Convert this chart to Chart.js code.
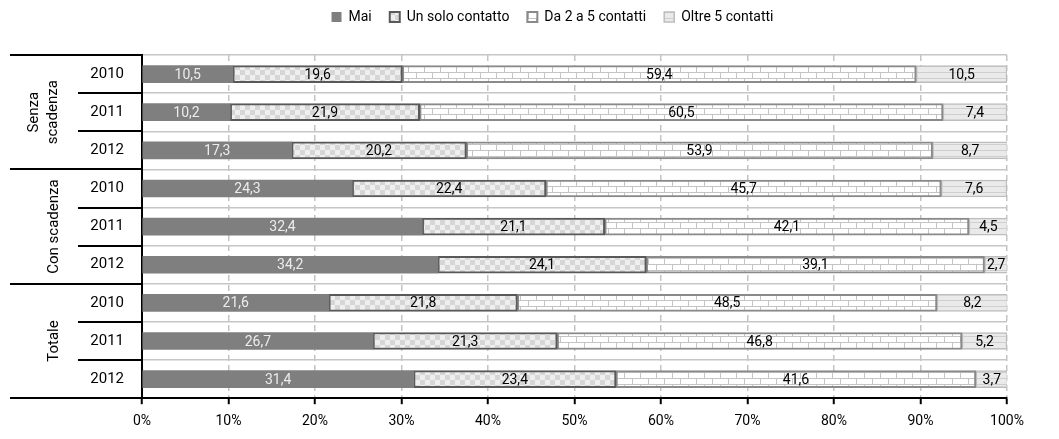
<!DOCTYPE html>
<html>
<head>
<meta charset="utf-8">
<script src="https://cdn.jsdelivr.net/npm/chart.js@4/dist/chart.umd.min.js"></script>
<style>
  body { margin: 0; background: #fff; }
  #wrap { width: 1059px; height: 439px; }
</style>
</head>
<body>
<div id="wrap"><canvas id="myChart" width="1059" height="439"></canvas></div>
<script>
// data
const groups = [['Senza', 'scadenza'], ['Con scadenza'], ['Totale']];
const years = ['2010', '2011', '2012', '2010', '2011', '2012', '2010', '2011', '2012'];
const seriesNames = ['Mai', 'Un solo contatto', 'Da 2 a 5 contatti', 'Oltre 5 contatti'];
const mai     = [10.5, 10.2, 17.3, 24.3, 32.4, 34.2, 21.6, 26.7, 31.4];
const unSolo  = [19.6, 21.9, 20.2, 22.4, 21.1, 24.1, 21.8, 21.3, 23.4];
const da2a5   = [59.4, 60.5, 53.9, 45.7, 42.1, 39.1, 48.5, 46.8, 41.6];
const oltre5  = [10.5, 7.4, 8.7, 7.6, 4.5, 2.7, 8.2, 5.2, 3.7];
const xTicks  = ['0%', '10%', '20%', '30%', '40%', '50%', '60%', '70%', '80%', '90%', '100%'];

const FONT = 'Roboto, sans-serif';

function makePattern(w, h, draw) {
  const c = document.createElement('canvas');
  c.width = w; c.height = h;
  const g = c.getContext('2d');
  draw(g);
  return document.getElementById('myChart').getContext('2d').createPattern(c, 'repeat');
}

const checker = makePattern(10, 10, g => {
  g.fillStyle = '#efefef'; g.fillRect(0, 0, 10, 10);
  g.fillStyle = '#d6d6d6'; g.fillRect(0, 0, 5, 5); g.fillRect(5, 5, 5, 5);
});
const brick = makePattern(16, 12, g => {
  g.fillStyle = '#ffffff'; g.fillRect(0, 0, 16, 12);
  g.fillStyle = '#c4c4c4';
  g.fillRect(0, 0, 16, 1); g.fillRect(0, 6, 16, 1);
  g.fillRect(0, 0, 1, 6); g.fillRect(8, 6, 1, 6);
});
const stripes = makePattern(8, 6, g => {
  g.fillStyle = '#eaeaea'; g.fillRect(0, 0, 8, 6);
  g.fillStyle = '#cfcfcf'; g.fillRect(0, 0, 8, 1);
});

const fills = ['#7f7f7f', checker, brick, stripes];
const borders = ['#7f7f7f', '#595959', '#8a8a8a', '#bdbdbd'];
const borderWidths = [0, 2, 2, 1.5];
const allValues = [mai, unSolo, da2a5, oltre5];

const datasets = seriesNames.map((name, i) => ({
  label: name,
  data: allValues[i],
  backgroundColor: fills[i],
  borderColor: borders[i],
  borderWidth: borderWidths[i],
  borderSkipped: false,
  barThickness: 17,
}));

// value labels in the middle of each segment
const valueLabels = {
  id: 'valueLabels',
  afterDatasetsDraw(chart) {
    const ctx = chart.ctx;
    ctx.save();
    ctx.font = '14px ' + FONT;
    ctx.textAlign = 'center';
    ctx.textBaseline = 'middle';
    chart.data.datasets.forEach((ds, di) => {
      const meta = chart.getDatasetMeta(di);
      meta.data.forEach((el, i) => {
        const p = el.getProps(['x', 'y', 'base'], true);
        ctx.fillStyle = di === 0 ? '#ececec' : '#000';
        ctx.fillText(ds.data[i].toFixed(1).replace('.', ','), (p.x + p.base) / 2, p.y + 1);
      });
    });
    ctx.restore();
  }
};

// legend: more room below it, and centred a bit to the right like the original
const legendSpace = {
  id: 'legendSpace',
  beforeInit(chart) {
    const fit = chart.legend.fit;
    chart.legend.fit = function () {
      fit.bind(chart.legend)();
      this.height += 13;
    };
  },
  afterLayout(chart) {
    const lg = chart.legend;
    lg.left += 44; lg.right += 44;
    lg.top -= 8; lg.bottom -= 8;
  }
};

// group labels and separator lines on the left
const groupAxis = {
  id: 'groupAxis',
  afterDraw(chart) {
    const ctx = chart.ctx;
    const y = chart.scales.y;
    const left = chart.chartArea.left;
    const rowH = y.getPixelForValue(1) - y.getPixelForValue(0);
    const edge = i => y.getPixelForValue(i) - rowH / 2;
    ctx.save();
    ctx.strokeStyle = '#000';
    ctx.lineWidth = 2;
    for (let i = 0; i <= years.length; i++) {
      const yy = Math.round(edge(i));
      const x0 = i % 3 === 0 ? 10 : 78;
      ctx.beginPath(); ctx.moveTo(x0, yy); ctx.lineTo(left, yy); ctx.stroke();
    }
    ctx.fillStyle = '#000';
    ctx.font = '15px ' + FONT;
    ctx.textAlign = 'center';
    ctx.textBaseline = 'middle';
    groups.forEach((lines, gi) => {
      const cy = (edge(gi * 3) + edge(gi * 3 + 3)) / 2;
      const cx = lines.length > 1 ? 44 : 54;
      ctx.save();
      ctx.translate(cx, cy);
      ctx.rotate(-Math.PI / 2);
      lines.forEach((t, li) => {
        ctx.fillText(t, 0, (li - (lines.length - 1) / 2) * 19);
      });
      ctx.restore();
    });
    ctx.restore();
  }
};

const config = {
  type: 'bar',
  data: { labels: years, datasets: datasets },
  options: {
    indexAxis: 'y',
    responsive: false,
    animation: false,
    layout: { padding: { left: 10, right: 52, top: 0, bottom: 0 } },
    plugins: {
      legend: {
        position: 'top',
        labels: {
          boxWidth: 10, boxHeight: 10, padding: 18,
          color: '#000',
          font: { family: FONT, size: 14 },
        }
      },
      tooltip: { enabled: false },
    },
    scales: {
      x: {
        stacked: true,
        min: 0, max: 100,
        ticks: {
          stepSize: 10,
          color: '#000',
          font: { family: FONT, size: 14 },
          padding: 9,
          callback: (v, i) => xTicks[i],
        },
        grid: {
          color: '#c4c4c4',
          lineWidth: 1.5,
          tickColor: '#000',
          tickLength: 6,
          tickWidth: 2,
          drawOnChartArea: true,
          tickBorderDash: [],
        },
        border: { color: '#000', width: 2, dash: [6, 4] },
      },
      y: {
        stacked: true,
        afterFit: s => { s.width = 132; },
        ticks: {
          color: '#000',
          font: { family: FONT, size: 15 },
          padding: 18,
        },
        grid: {
          offset: true,
          color: '#c6c6c6',
          lineWidth: 1.5,
          drawTicks: false,
        },
        border: { color: '#000', width: 2 },
      }
    }
  },
  plugins: [valueLabels, legendSpace, groupAxis]
};

new Chart(document.getElementById('myChart').getContext('2d'), config);
</script>
</body>
</html>
